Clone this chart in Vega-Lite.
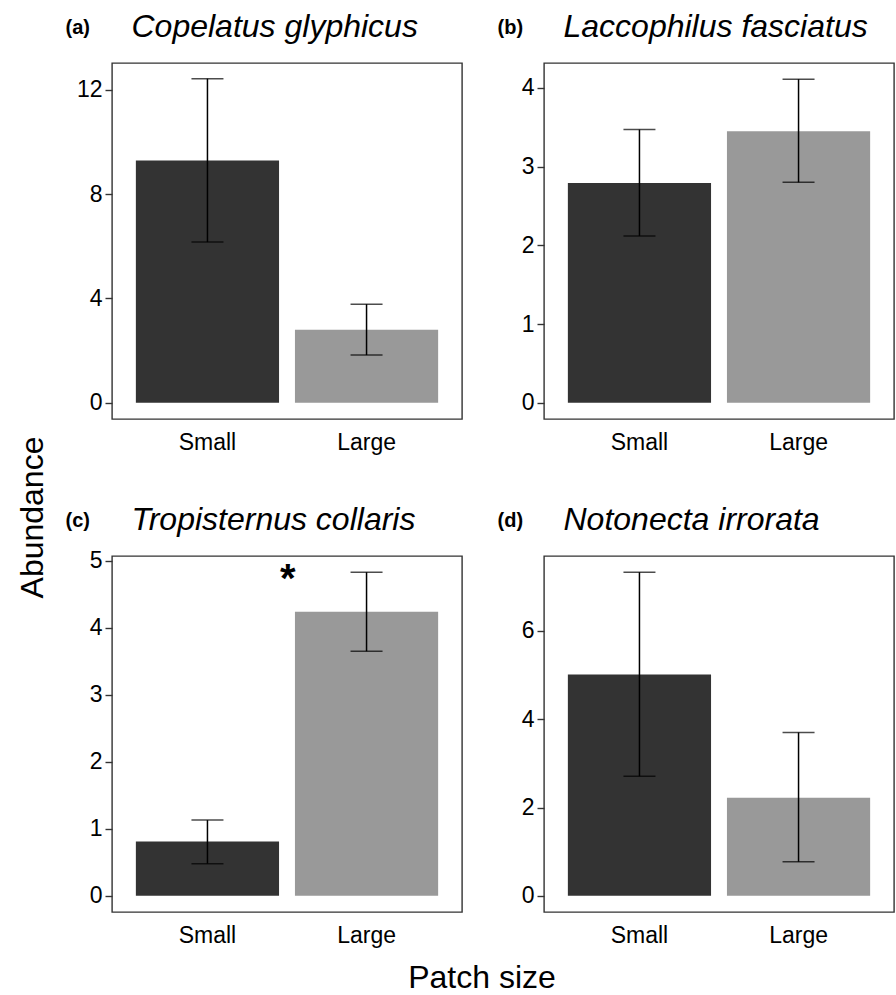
{
  "$schema": "https://vega.github.io/schema/vega-lite/v6.json",
  "padding": {"left": 17, "top": 9, "right": 0, "bottom": 0},
  "background": "white",
  "data": {"values": [
    {"panel": "a", "size": "Small", "mean": 9.28, "lo": 6.16, "hi": 12.42},
    {"panel": "a", "size": "Large", "mean": 2.80, "lo": 1.83, "hi": 3.78},
    {"panel": "b", "size": "Small", "mean": 2.79, "lo": 2.12, "hi": 3.47},
    {"panel": "b", "size": "Large", "mean": 3.45, "lo": 2.80, "hi": 4.11},
    {"panel": "c", "size": "Small", "mean": 0.81, "lo": 0.48, "hi": 1.13},
    {"panel": "c", "size": "Large", "mean": 4.24, "lo": 3.65, "hi": 4.83},
    {"panel": "d", "size": "Small", "mean": 5.01, "lo": 2.71, "hi": 7.33},
    {"panel": "d", "size": "Large", "mean": 2.22, "lo": 0.77, "hi": 3.70}
  ]},
  "title": {"text": "Patch size", "orient": "bottom", "fontSize": 32, "fontWeight": "normal", "font": "Liberation Sans", "color": "#000", "offset": 15, "anchor": "middle", "dx": 26},
  "config": {
    "font": "Liberation Sans",
    "view": {"stroke": "#333", "strokeWidth": 1.4},
    "axis": {"grid": false, "domain": false, "labelFont": "Liberation Sans", "labelFontSize": 23, "labelColor": "#000", "tickColor": "#333", "tickWidth": 1.4, "titleFont": "Liberation Sans", "titleColor": "#000"},
    "axisX": {"ticks": false, "labelPadding": 12, "labelAngle": 0, "titleFontSize": 32, "titleFontStyle": "italic", "titleFontWeight": "normal", "titleAlign": "left", "titleBaseline": "alphabetic", "titleX": 19, "titleY": -383},
    "axisY": {"format": "d", "tickSize": 7, "labelPadding": 3, "titleAngle": 0, "titleFontSize": 20, "titleFontWeight": "bold", "titleAlign": "left", "titleBaseline": "alphabetic", "titleX": -47, "titleY": -30}
  },
  "vconcat": [{
    "title": {"text": "Abundance", "orient": "left", "fontSize": 32, "fontWeight": "normal", "font": "Liberation Sans", "color": "#000", "offset": 14, "anchor": "middle", "dx": -39},
    "columns": 2,
    "bounds": "flush",
    "spacing": {"row": 137, "column": 82},
    "concat": [
      {
        "width": 350, "height": 356,
        "transform": [{"filter": "datum.panel === 'a'"}],
        "encoding": {
          "x": {"field": "size", "type": "nominal", "sort": ["Small", "Large"], "scale": {"paddingInner": 0.1, "paddingOuter": 0.15}, "axis": {"title": "Copelatus glyphicus"}}
        },
        "layer": [
          {"mark": {"type": "bar"}, "encoding": {
            "y": {"field": "mean", "type": "quantitative", "scale": {"domain": [-0.62, 13.02], "nice": false, "zero": false}, "axis": {"values": [0, 4, 8, 12], "title": "(a)"}},
            "y2": {"datum": 0},
            "color": {"field": "size", "type": "nominal", "scale": {"domain": ["Small", "Large"], "range": ["#333333", "#999999"]}, "legend": null}}},
          {"mark": {"type": "rule", "color": "#000", "strokeWidth": 1.5}, "encoding": {"y": {"field": "lo", "type": "quantitative"}, "y2": {"field": "hi"}}},
          {"mark": {"type": "tick", "color": "#000", "thickness": 1.5, "size": 32}, "encoding": {"y": {"field": "lo", "type": "quantitative"}}},
          {"mark": {"type": "tick", "color": "#000", "thickness": 1.5, "size": 32}, "encoding": {"y": {"field": "hi", "type": "quantitative"}}}
        ]
      },
      {
        "width": 350, "height": 356,
        "transform": [{"filter": "datum.panel === 'b'"}],
        "encoding": {
          "x": {"field": "size", "type": "nominal", "sort": ["Small", "Large"], "scale": {"paddingInner": 0.1, "paddingOuter": 0.15}, "axis": {"title": "Laccophilus fasciatus"}}
        },
        "layer": [
          {"mark": {"type": "bar"}, "encoding": {
            "y": {"field": "mean", "type": "quantitative", "scale": {"domain": [-0.2055, 4.3155], "nice": false, "zero": false}, "axis": {"values": [0, 1, 2, 3, 4], "title": "(b)"}},
            "y2": {"datum": 0},
            "color": {"field": "size", "type": "nominal", "scale": {"domain": ["Small", "Large"], "range": ["#333333", "#999999"]}, "legend": null}}},
          {"mark": {"type": "rule", "color": "#000", "strokeWidth": 1.5}, "encoding": {"y": {"field": "lo", "type": "quantitative"}, "y2": {"field": "hi"}}},
          {"mark": {"type": "tick", "color": "#000", "thickness": 1.5, "size": 32}, "encoding": {"y": {"field": "lo", "type": "quantitative"}}},
          {"mark": {"type": "tick", "color": "#000", "thickness": 1.5, "size": 32}, "encoding": {"y": {"field": "hi", "type": "quantitative"}}}
        ]
      },
      {
        "width": 350, "height": 356,
        "transform": [{"filter": "datum.panel === 'c'"}],
        "encoding": {
          "x": {"field": "size", "type": "nominal", "sort": ["Small", "Large"], "scale": {"paddingInner": 0.1, "paddingOuter": 0.15}, "axis": {"title": "Tropisternus collaris"}}
        },
        "layer": [
          {"mark": {"type": "bar"}, "encoding": {
            "y": {"field": "mean", "type": "quantitative", "scale": {"domain": [-0.2415, 5.0715], "nice": false, "zero": false}, "axis": {"values": [0, 1, 2, 3, 4, 5], "title": "(c)"}},
            "y2": {"datum": 0},
            "color": {"field": "size", "type": "nominal", "scale": {"domain": ["Small", "Large"], "range": ["#333333", "#999999"]}, "legend": null}}},
          {"mark": {"type": "rule", "color": "#000", "strokeWidth": 1.5}, "encoding": {"y": {"field": "lo", "type": "quantitative"}, "y2": {"field": "hi"}}},
          {"mark": {"type": "tick", "color": "#000", "thickness": 1.5, "size": 32}, "encoding": {"y": {"field": "lo", "type": "quantitative"}}},
          {"mark": {"type": "tick", "color": "#000", "thickness": 1.5, "size": 32}, "encoding": {"y": {"field": "hi", "type": "quantitative"}}},
          {"transform": [{"filter": "datum.size === 'Large'"}],
           "mark": {"type": "text", "text": "*", "fontSize": 40, "fontWeight": "bold", "baseline": "middle", "align": "center", "color": "#000", "dy": 8},
           "encoding": {"x": {"field": "size", "type": "nominal", "sort": ["Small", "Large"], "bandPosition": -0.05}, "y": {"field": "hi", "type": "quantitative"}}}
        ]
      },
      {
        "width": 350, "height": 356,
        "transform": [{"filter": "datum.panel === 'd'"}],
        "encoding": {
          "x": {"field": "size", "type": "nominal", "sort": ["Small", "Large"], "scale": {"paddingInner": 0.1, "paddingOuter": 0.15}, "axis": {"title": "Notonecta irrorata"}}
        },
        "layer": [
          {"mark": {"type": "bar"}, "encoding": {
            "y": {"field": "mean", "type": "quantitative", "scale": {"domain": [-0.3665, 7.6965], "nice": false, "zero": false}, "axis": {"values": [0, 2, 4, 6], "title": "(d)"}},
            "y2": {"datum": 0},
            "color": {"field": "size", "type": "nominal", "scale": {"domain": ["Small", "Large"], "range": ["#333333", "#999999"]}, "legend": null}}},
          {"mark": {"type": "rule", "color": "#000", "strokeWidth": 1.5}, "encoding": {"y": {"field": "lo", "type": "quantitative"}, "y2": {"field": "hi"}}},
          {"mark": {"type": "tick", "color": "#000", "thickness": 1.5, "size": 32}, "encoding": {"y": {"field": "lo", "type": "quantitative"}}},
          {"mark": {"type": "tick", "color": "#000", "thickness": 1.5, "size": 32}, "encoding": {"y": {"field": "hi", "type": "quantitative"}}}
        ]
      }
    ]
  }]
}
